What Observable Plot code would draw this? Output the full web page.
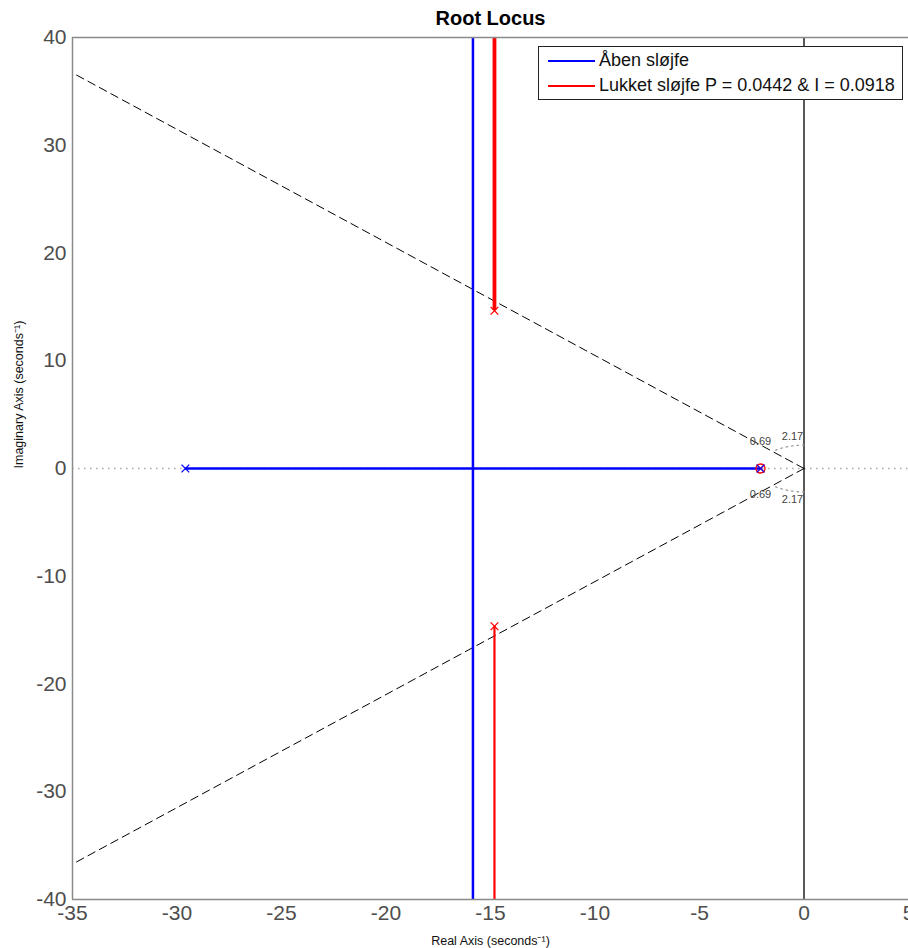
<!DOCTYPE html>
<html><head><meta charset="utf-8">
<script src="https://cdn.jsdelivr.net/npm/d3@7"></script>
<script src="https://cdn.jsdelivr.net/npm/@observablehq/plot@0.6"></script>
<style>
body{margin:0;background:#fff;font-family:"Liberation Sans",Arial,sans-serif;}
#wrap{position:relative;width:908px;height:948px;overflow:hidden;}
#legend{position:absolute;left:538px;top:46px;width:363px;height:52px;border:1px solid #222;background:#fff;font-size:18px;color:#111;}
#legend .sw{position:absolute;left:9px;width:47px;height:1.5px;}
#legend .lb{position:absolute;left:60px;white-space:nowrap;line-height:18px;}
</style></head>
<body><div id="wrap"></div>
<script>
const title = "Root Locus";
const xLabel = "Real Axis (seconds⁻¹)";
const yLabel = "Imaginary Axis (seconds⁻¹)";
const xTicks = [-35, -30, -25, -20, -15, -10, -5, 0, 5];
const yTicks = [-40, -30, -20, -10, 0, 10, 20, 30, 40];
const seriesNames = ["Åben sløjfe", "Lukket sløjfe P = 0.0442 & I = 0.0918"];
const seriesColors = ["#0000ff", "#ff0000"];

// open loop (Åben sløjfe)
const openPoleRe = [-29.6, -2.08];
const openPoleIm = [0, 0];
const openBreakawayRe = -15.84;
const openVerticalIm = [-40, 40];

// closed loop (Lukket sløjfe)
const closedPoleRe = [-14.81, -14.81, -2.08];
const closedPoleIm = [14.64, -14.64, 0];
const closedZeroRe = [-2.08];
const closedZeroIm = [0];
const closedUpperIm = [14.64, 40];
const closedLowerIm = [-14.64, -40];

// sgrid
const zeta = 0.69;
const wn = 2.17;
const gridLabelText = ["0.69", "2.17", "0.69", "2.17"];
const gridLabelRe = [-2.08, -0.55, -2.08, -0.55];
const gridLabelIm = [2.5, 2.95, -2.4, -2.85];

const xDomain = [-35, 5];
const yDomain = [-40, 40];

const theta = Math.acos(zeta);
const slope = Math.tan(theta);
const dampUpper = [[0, 0], [xDomain[0], -xDomain[0] * slope]];
const dampLower = [[0, 0], [xDomain[0], xDomain[0] * slope]];
const arcAngles = d3.range(0, 41).map(i => Math.PI / 2 + (Math.PI / 2 - theta) * i / 40);
const arcUpper = arcAngles.map(a => [wn * Math.cos(a), wn * Math.sin(a)]);
const arcLower = arcAngles.map(a => [wn * Math.cos(a), -wn * Math.sin(a)]);

const gridLabels = gridLabelText.map((t, i) => ({t, x: gridLabelRe[i], y: gridLabelIm[i]}));
const fmt = d => String(d);

const chart = Plot.plot({
  width: 908, height: 948,
  marginTop: 37, marginLeft: 72, marginRight: 0, marginBottom: 49,
  style: {fontFamily: "'Liberation Sans', Arial, sans-serif", background: "#fff", overflow: "visible"},
  x: {domain: xDomain},
  y: {domain: yDomain},
  marks: [
    Plot.ruleY([0], {stroke: "#a8a8a8", strokeWidth: 1.5, strokeDasharray: "1.5,4.5"}),
    Plot.ruleX([0], {stroke: "#000", strokeWidth: 1.3}),
    Plot.line(dampUpper, {stroke: "#000", strokeWidth: 1, strokeDasharray: "8,5"}),
    Plot.line(dampLower, {stroke: "#000", strokeWidth: 1, strokeDasharray: "8,5"}),
    Plot.line(arcUpper, {stroke: "#999", strokeWidth: 1.3, strokeDasharray: "1.5,4"}),
    Plot.line(arcLower, {stroke: "#999", strokeWidth: 1.3, strokeDasharray: "1.5,4"}),
    Plot.text(gridLabels, {x: "x", y: "y", text: "t", fontSize: 11, fill: "#444"}),
    // open loop
    Plot.ruleY([0], {x1: openPoleRe[0], x2: openPoleRe[1], stroke: seriesColors[0], strokeWidth: 2.5}),
    Plot.ruleX([openBreakawayRe], {y1: openVerticalIm[0], y2: openVerticalIm[1], stroke: seriesColors[0], strokeWidth: 2.5}),
    // closed loop
    Plot.ruleX([closedPoleRe[0]], {y1: closedUpperIm[0], y2: closedUpperIm[1], stroke: seriesColors[1], strokeWidth: 3.8}),
    Plot.ruleX([closedPoleRe[1]], {y1: closedLowerIm[0], y2: closedLowerIm[1], stroke: seriesColors[1], strokeWidth: 2.2}),
    Plot.dot(closedZeroRe.map((x, i) => ({x, y: closedZeroIm[i]})), {x: "x", y: "y", r: 4.5, stroke: seriesColors[1], strokeWidth: 1.3}),
    Plot.dot(closedPoleRe.map((x, i) => ({x, y: closedPoleIm[i]})), {x: "x", y: "y", symbol: "times", r: 3.6, stroke: seriesColors[1], strokeWidth: 1.3}),
    Plot.dot(openPoleRe.map((x, i) => ({x, y: openPoleIm[i]})), {x: "x", y: "y", symbol: "times", r: 3.6, stroke: seriesColors[0], strokeWidth: 1.3}),
    // frame
    Plot.ruleX([xDomain[0]], {stroke: "#8a8a8a", strokeWidth: 1.5}),
    Plot.ruleY(yDomain, {stroke: "#8a8a8a", strokeWidth: 1.5}),
    Plot.axisX(xTicks, {tickSize: 0, tickPadding: 6, fontSize: 21, fill: "#4d4d4d", label: null, tickFormat: fmt}),
    Plot.axisY(yTicks, {tickSize: 0, tickPadding: 6, fontSize: 21, fill: "#4d4d4d", label: null, tickFormat: fmt}),
    Plot.text([title], {frameAnchor: "top", lineAnchor: "middle", dy: -19, fontSize: 20, fontWeight: "bold", fill: "#000"}),
    Plot.text([xLabel], {frameAnchor: "bottom", lineAnchor: "middle", dy: 41, fontSize: 12.5, fill: "#111"}),
    Plot.text([yLabel], {frameAnchor: "left", dx: -54, rotate: -90, fontSize: 12.5, fill: "#111"})
  ]
});
const wrap = document.getElementById("wrap");
wrap.appendChild(chart);

const legend = document.createElement("div");
legend.id = "legend";
seriesNames.forEach((name, i) => {
  const sw = document.createElement("div");
  sw.className = "sw";
  sw.style.background = seriesColors[i];
  sw.style.top = (13 + i * 25) + "px";
  const lb = document.createElement("div");
  lb.className = "lb";
  lb.style.top = (4 + i * 25) + "px";
  lb.textContent = name;
  legend.appendChild(sw);
  legend.appendChild(lb);
});
wrap.appendChild(legend);
</script>
</body></html>
